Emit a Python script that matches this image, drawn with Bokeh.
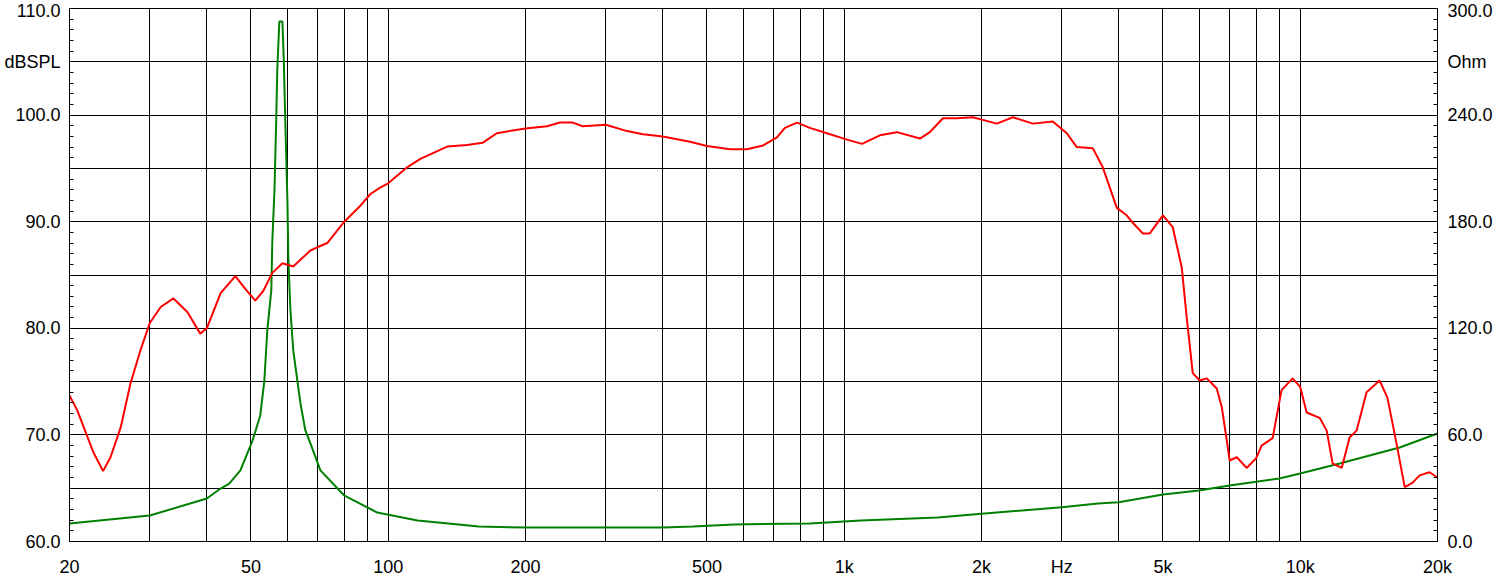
from bokeh.plotting import figure
from bokeh.models import Range1d, LinearAxis, FixedTicker
from bokeh.embed import file_html
from bokeh.resources import INLINE

# SPL response (Hz, dBSPL)
spl_freq = [20, 20.8, 22.6, 23.7, 24.6, 25.9, 27.2, 28.6, 30, 31.7, 33.8, 36.3, 38.7, 40,
            42.9, 46.2, 48.6, 51.1, 53.2, 55.7, 58.6, 61.9, 67.5, 69.9, 73.5, 79.7, 86.9,
            91.4, 96, 100, 110, 117.6, 134.7, 149, 161, 173, 200, 223, 238, 254, 267, 300,
            334, 362, 400, 459, 500, 562, 612, 664, 712, 741, 788, 841, 916, 1014, 1094,
            1197, 1305, 1466, 1541, 1646, 1766, 1914, 2162, 2343, 2592, 2867, 3077, 3236,
            3508, 3690, 3961, 4163, 4294, 4514, 4678, 5000, 5252, 5498, 5638, 5812, 6020,
            6238, 6560, 6730, 6900, 7000, 7260, 7630, 8000, 8230, 8700, 9100, 9620, 10000,
            10330, 11030, 11430, 11780, 12330, 12830, 13290, 13980, 14930, 15530, 16260,
            16950, 17620, 18270, 19210, 20000]
spl_db = [73.7, 72.3, 68.3, 66.6, 67.9, 70.7, 74.8, 77.9, 80.5, 82.0, 82.8, 81.5, 79.5, 80.0,
          83.3, 84.9, 83.7, 82.6, 83.5, 85.2, 86.1, 85.8, 87.3, 87.6, 88.0, 89.9, 91.5,
          92.6, 93.2, 93.6, 95.1, 95.9, 97.05, 97.2, 97.4, 98.3, 98.75, 98.95, 99.3, 99.3, 98.95, 99.1,
          98.5, 98.2, 98.0, 97.5, 97.1, 96.8, 96.8, 97.15, 97.9, 98.8, 99.3, 98.8, 98.3, 97.7, 97.3,
          98.1, 98.4, 97.8, 98.4, 99.7, 99.7, 99.8, 99.2, 99.8, 99.2, 99.4, 98.3, 97.0,
          96.9, 95.1, 91.3, 90.6, 89.9, 88.9, 88.9, 90.6, 89.5, 85.7, 81.0, 75.8, 75.1,
          75.3, 74.35, 72.6, 69.5, 67.6, 67.9, 66.9, 67.8, 69.0, 69.7, 74.2, 75.3, 74.5,
          72.1, 71.6, 70.4, 67.3, 66.9, 69.75, 70.4, 74.0, 75.1, 73.5, 69.2,
          65.1, 65.5, 66.2, 66.5, 66.0]

# Impedance (Hz, Ohm)
imp_freq = [20, 30, 40, 42.9, 44.8, 47.4, 50.4, 52.4, 53.5, 54.3, 55.4, 55.7, 56.3, 56.8,
            57.1, 57.7, 58.6, 59.0, 59.5, 60.1, 60.4, 61.0, 61.9, 64.2, 65.8, 67.5, 71, 80,
            94.6, 116, 158, 200, 400, 466, 573, 841, 1088, 1604, 2000, 3000, 3600, 4000,
            5000, 6000, 7000, 9000, 10000, 12200, 16520, 20000]
imp_ohm = [10.1, 14.6, 24.2, 29.8, 32.6, 40.0, 56.8, 70.9, 90.6, 118.8, 141.3, 169.4, 197.6, 237,
           265, 292.7, 292.7, 271.9, 234, 192, 159, 131, 107.5, 77.7, 62.5, 55.2, 40, 26,
           16.3, 11.8, 8.4, 7.9, 7.9, 8.4, 9.6, 10.1, 11.8, 13.5, 15.6, 19.3, 21.4, 22.1,
           26.5, 28.7, 31.5, 35.5, 38.3, 43.9, 52.9, 60.8]

x_tick_values = [20, 50, 100, 200, 500, 1000, 2000, 3000, 5000, 10000, 20000]
x_tick_labels = ["20", "50", "100", "200", "500", "1k", "2k", "Hz", "5k", "10k", "20k"]
x_grid_values = [30, 40, 50, 60, 70, 80, 90, 100, 200, 300, 400, 500, 600, 700, 800, 900,
                 1000, 2000, 3000, 4000, 5000, 6000, 7000, 8000, 9000, 10000]
db_tick_values = [60, 70, 80, 90, 100, 105, 110]
db_tick_labels = ["60.0", "70.0", "80.0", "90.0", "100.0", "dBSPL", "110.0"]
db_grid_values = [65, 70, 75, 80, 85, 90, 95, 100, 105]
ohm_tick_values = [0, 60, 120, 180, 240, 270, 300]
ohm_tick_labels = ["0.0", "60.0", "120.0", "180.0", "240.0", "Ohm", "300.0"]

FONT = "Liberation Sans"
FS = "18px"

p = figure(width=1498, height=585, x_axis_type="log",
           x_range=Range1d(20, 20000), y_range=Range1d(60, 110),
           output_backend="svg", toolbar_location=None,
           min_border_left=69, min_border_right=61, min_border_top=8, min_border_bottom=44,
           background_fill_color="white", border_fill_color="white")
p.outline_line_color = "black"
p.outline_line_alpha = 1.0
p.outline_line_width = 1
p.extra_y_ranges = {"ohm": Range1d(0, 300)}

p.xgrid.ticker = FixedTicker(ticks=x_grid_values)
p.ygrid.ticker = FixedTicker(ticks=db_grid_values)
for g in (p.xgrid, p.ygrid):
    g.grid_line_color = "black"
    g.grid_line_alpha = 1.0
    g.grid_line_width = 1


def style_axis(ax):
    ax.axis_line_color = "black"
    ax.major_label_text_font = FONT
    ax.major_label_text_font_size = FS
    ax.major_label_text_color = "black"
    ax.major_tick_line_color = "black"
    ax.minor_tick_line_color = "black"


xa = p.xaxis[0]
style_axis(xa)
xa.ticker = FixedTicker(ticks=x_tick_values)
xa.major_label_overrides = {v: l for v, l in zip(x_tick_values, x_tick_labels)}
xa.major_tick_in = 0
xa.major_tick_out = 0
xa.minor_tick_in = 0
xa.minor_tick_out = 0
xa.major_label_standoff = 15

ya = p.yaxis[0]
style_axis(ya)
ya.ticker = FixedTicker(ticks=db_tick_values, minor_ticks=list(range(60, 111)))
ya.major_label_overrides = {v: l for v, l in zip(db_tick_values, db_tick_labels)}
ya.major_tick_in = 4
ya.major_tick_out = 0
ya.minor_tick_in = 4
ya.minor_tick_out = 0
ya.major_label_standoff = 9

ra = LinearAxis(y_range_name="ohm",
                ticker=FixedTicker(ticks=ohm_tick_values, minor_ticks=list(range(0, 301, 6))))
style_axis(ra)
ra.major_label_overrides = {v: l for v, l in zip(ohm_tick_values, ohm_tick_labels)}
ra.major_tick_in = 4
ra.major_tick_out = 0
ra.minor_tick_in = 4
ra.minor_tick_out = 0
ra.major_label_standoff = 10
p.add_layout(ra, "right")

p.line(imp_freq, imp_ohm, line_color="#008000", line_width=2, y_range_name="ohm")
p.line(spl_freq, spl_db, line_color="#ff0000", line_width=2)

open("out.html", "w").write(file_html(p, INLINE))
